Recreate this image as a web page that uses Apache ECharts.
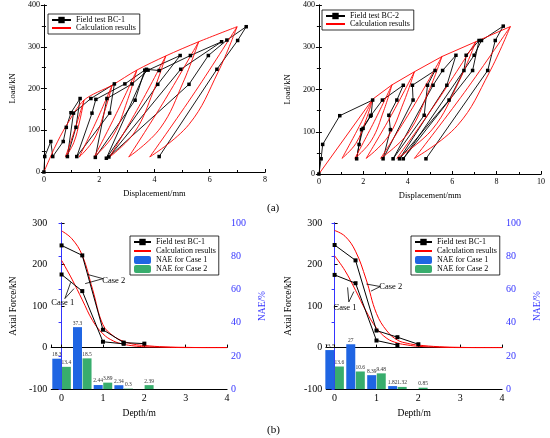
<!DOCTYPE html>
<html>
<head>
<meta charset="utf-8">
<script src="https://cdn.jsdelivr.net/npm/echarts@6/dist/echarts.min.js"></script>
<style>
body { margin: 0; background: #fff; width: 550px; height: 438px; position: relative; overflow: hidden; font-family: "Liberation Serif", serif; }
.c { position: absolute; width: 275px; height: 208px; }
.tag { position: absolute; font-size: 11px; color: #000; }
</style>
</head>
<body>
<div id="a" class="c" style="left:0;top:0"></div>
<div id="b" class="c" style="left:275px;top:0"></div>
<div id="c" class="c" style="left:0;top:215px"></div>
<div id="d" class="c" style="left:275px;top:215px"></div>
<div class="tag" style="left:267px;top:201px">(a)</div>
<div class="tag" style="left:267px;top:423px">(b)</div>
<script>
// ---- (a) load-displacement, BC-1 ----
var bc1Test = [[0,0],[0.03,37],[0.25,73],[0.32,37],
  [0.70,73],[0.81,107],[0.98,142],[1.31,176],[1.16,107],[0.85,37],
  [1.07,141],[1.70,176],[2.55,211],[2.38,141],[1.19,37],
  [1.74,141],[1.88,174],[2.93,211],[3.65,244],[3.30,172],[1.86,35],
  [2.28,176],[3.19,211],[3.77,244],[4.93,279],[4.12,210],[2.26,33],
  [3.71,246],[4.17,243],[5.30,279],[6.43,312],[4.95,246],[2.35,36],
  [5.25,210],[5.95,279],[6.62,316],[7.32,348],[7.01,315],[6.26,246],[4.17,37]];
var bc1Envelope = [[0,0],[0.4,60],[0.8,110],[1.45,172],[2.47,208],[3.36,244],[4.41,278],[5.6,312],[6.99,348]];
var bc1Peaks = [[1.45,172],[2.47,208],[3.36,244],[4.41,278],[5.6,312],[6.99,348]];
var bc1Unload = [[[1.30,124],[1.08,70]], [[2.21,148],[1.82,79]], [[3.02,171],[2.51,88]],
  [[3.96,193],[3.29,96]], [[5.04,215],[4.21,105]], [[6.30,239],[5.25,114]]];
var bc1Resid = [[0.78,36],[1.28,36],[1.82,36],[2.38,36],[3.07,36],[3.83,36]];
var bc1Reload = [[1.13,104],[1.90,122],[2.62,140],[3.44,157],[4.39,174],[5.47,192]];

// ---- (a) load-displacement, BC-2 ----
var bc2Test = [[0,0],[0.1,36],[0.17,70],[0.94,138],[2.42,175],[2.35,139],[1.99,108],[1.81,70],[1.7,36],
  [1.92,105],[2.32,137],[2.86,175],[3.8,210],[3.51,175],[3.15,139],[3.22,105],[2.89,36],
  [4.24,175],[4.21,210],[5.23,245],[4.89,210],[4.74,139],[3.34,36],
  [5.14,210],[5.57,245],[6.17,281],[5.76,210],[3.63,36],
  [5.86,175],[6.53,245],[6.63,281],[7.21,316],[6.92,245],[3.8,36],
  [6.99,281],[7.32,316],[8.3,350],[7.94,316],[7.6,245],[4.82,36]];
var bc2Envelope = [[0,0],[2.42,177],[3.29,211],[4.30,242],[5.54,278],[7.06,313],[8.62,349]];
var bc2Peaks = [[2.42,177],[3.29,211],[4.30,242],[5.54,278],[7.06,313],[8.62,349]];
var bc2Unload = [[[2.12,128],[1.66,72]], [[2.92,150],[2.37,80]], [[3.82,170],[3.11,88]],
  [[4.93,194],[4.02,97]], [[6.28,216],[5.11,106]], [[7.67,240],[6.24,115]]];
var bc2Resid = [[1.04,37],[1.62,37],[2.13,37],[2.78,37],[3.51,37],[4.3,37]];
var bc2Reload = [[1.76,107],[2.49,124],[3.26,139],[4.22,157],[5.36,175],[6.55,193]];

// ---- (b) axial force along depth ----
var testDepth = [0, 0.5, 1, 1.5, 2];
var calcDepth = [0, 0.25, 0.5, 0.75, 1, 1.25, 1.5, 1.75, 2, 2.5, 3, 3.5, 4];
var leftTestUpper = [246, 222, 43, 12, 9.5];
var leftTestLower = [176, 136, 14, 9];
var leftCalcUpper = [281, 262, 222, 140, 55, 28, 15, 8, 5, 1.5, 0.5, 0, 0];
var leftCalcLower = [210, 165, 115, 65, 33, 16, 8, 4, 2, 1, 0, 0, 0];
var leftNae1 = [18.3, 37.3, 2.44, 2.34];
var leftNae2 = [13.4, 18.5, 3.89, 0.3, 2.39];
var rightTestUpper = [247, 210, 41, 25, 8];
var rightTestLower = [175, 155, 17, 6];
var rightCalcUpper = [282, 268, 232, 165, 82, 40, 18, 10, 6, 2, 0.5, 0, 0];
var rightCalcLower = [221, 185, 138, 88, 47, 22, 11, 6, 3, 1, 0, 0, 0];
var rightNae1 = [23.5, 27, 8.39, 1.82];
var rightNae2 = [13.6, 10.6, 9.48, 1.32, 0.85];

// annotation pointers: [apex, end1, end2], label centre
var leftCase2 = [[1.0,166],[0.63,176],[0.57,154]], leftCase2Text = [1.26,162];
var leftCase1 = [[0.08,118],[0.22,157],[0.30,142]], leftCase1Text = [0.03,108];
var rightCase2 = [[1.09,147],[0.76,153],[0.87,136]], rightCase2Text = [1.34,147];
var rightCase1 = [[0.34,110],[0.31,145],[0.46,135]], rightCase1Text = [0.25,96];

var serif = 'Liberation Serif';
var NAN = [NaN, NaN];

function zip(xs, ys) {
  return ys.map(function (y, i) { return [xs[i], y]; });
}

function frameAxes(xmin, xmax, xname, ymin, ymax, yname, minor, fs, nfs, nameGapX, nameGapY) {
  var line = { show: true, lineStyle: { color: '#000', width: 1 } };
  var tick = { show: true, inside: true, length: 3, lineStyle: { color: '#000' } };
  var mtick = { show: minor, splitNumber: 2, length: 2, lineStyle: { color: '#000' } };
  var lab = { color: '#000', fontFamily: serif, fontSize: fs, margin: 4 };
  var nameStyle = { color: '#000', fontFamily: serif, fontSize: nfs };
  return {
    x: [{ type: 'value', min: xmin, max: xmax, name: xname, nameLocation: 'middle', nameGap: nameGapX,
          nameTextStyle: nameStyle, axisLine: line, axisTick: tick, minorTick: mtick, axisLabel: lab,
          splitLine: { show: false } },
        { type: 'value', min: xmin, max: xmax, position: 'top', axisLine: line,
          axisTick: { show: false }, axisLabel: { show: false }, splitLine: { show: false } }],
    y: { type: 'value', min: ymin, max: ymax, interval: 100, name: yname, nameLocation: 'middle',
         nameGap: nameGapY, nameTextStyle: nameStyle, axisLine: line, axisTick: tick, minorTick: mtick,
         axisLabel: lab, splitLine: { show: false } },
    line: line, tick: tick, mtick: mtick
  };
}

// red legend entry: line only, no marker
var calcLegend = { name: 'Calculation results', itemStyle: { opacity: 0 } };

function hysteresis(id, o) {
  var loops = [];
  o.peaks.forEach(function (p, i) {
    var r = o.resid[i];
    loops.push(p, o.unload[i][0], o.unload[i][1], r, NAN, r, o.reload[i], p, NAN);
  });
  var ax = frameAxes(0, o.xmax, 'Displacement/mm', 0, 400, 'Load/kN', true, 8, 8.5, 17, 22);
  ax.x[0].interval = 2;
  var chart = echarts.init(document.getElementById(id));
  chart.setOption({
    animation: false,
    grid: { left: o.left, top: 5, width: 230, height: o.height },
    legend: { data: [o.testName, calcLegend], orient: 'vertical', left: o.legLeft, top: o.legTop,
      borderColor: '#000', borderWidth: 0.8, padding: [2, 4, 2, 3], itemGap: 0, itemWidth: 19, itemHeight: 8,
      textStyle: { fontFamily: serif, fontSize: 8, color: '#000' } },
    xAxis: ax.x,
    yAxis: [ax.y, { type: 'value', min: 0, max: 400, interval: 100, position: 'right', axisLine: ax.line,
      axisTick: ax.tick, minorTick: ax.mtick, axisLabel: { show: false }, splitLine: { show: false } }],
    series: [
      { name: o.testName, type: 'line', data: o.test, symbol: 'rect', symbolSize: 3.5,
        lineStyle: { color: '#000', width: 0.9 }, itemStyle: { color: '#000' } },
      { name: 'Calculation results', type: 'line', data: o.envelope, symbol: 'none', smooth: o.envSmooth,
        lineStyle: { color: '#ff0000', width: 0.9 }, itemStyle: { color: '#ff0000' } },
      { name: 'Calculation results', type: 'line', data: loops, symbol: 'none', smooth: 0.4, connectNulls: false,
        lineStyle: { color: '#ff0000', width: 0.9 }, itemStyle: { color: '#ff0000' } }
    ]
  });
}

function caseNote(pts, textAt, text) {
  return {
    line: [[{ coord: pts[0] }, { coord: pts[1] }], [{ coord: pts[0] }, { coord: pts[2] }]],
    point: { coord: textAt, symbolSize: 0, label: { show: true, formatter: text, position: 'inside',
      color: '#000', fontFamily: serif, fontSize: 8.5 } }
  };
}

function profile(id, o) {
  var ax = frameAxes(o.xmin, 4, 'Depth/m', -100, 300, 'Axial Force/kN', false, 10, 9.5, 18, 26);
  ax.x[0].axisLabel.formatter = function (v) { return Math.abs(v - Math.round(v)) < 1e-6 ? String(Math.round(v)) : ''; };
  var n1 = caseNote(o.case1, o.case1Text, 'Case 1');
  var n2 = caseNote(o.case2, o.case2Text, 'Case 2');
  var blue = '#3434ff';
  var barLabel = { show: true, position: 'top', distance: 1, fontSize: 5.5, fontFamily: serif, color: '#333' };
  var lineBlack = { color: '#000', width: 1 };
  var lineRed = { color: '#ff0000', width: 1 };
  var chart = echarts.init(document.getElementById(id));
  chart.setOption({
    animation: false,
    grid: { left: o.left, top: 8, width: o.width, height: 169 },
    legend: { data: [o.testName, calcLegend, 'NAE for Case 1', 'NAE for Case 2'], orient: 'vertical',
      left: o.legLeft, top: 21, borderColor: '#000', borderWidth: 0.8, padding: [2, 3, 2, 3], itemGap: 1,
      itemWidth: 17, itemHeight: 8, textStyle: { fontFamily: serif, fontSize: 8, color: '#000' } },
    xAxis: ax.x,
    yAxis: [ax.y, { type: 'value', min: 0, max: 100, interval: 20, position: 'right', name: 'NAE/%',
      nameLocation: 'middle', nameGap: 23, nameTextStyle: { color: blue, fontFamily: serif, fontSize: 9.5 },
      axisLine: { show: true, lineStyle: { color: blue, width: 1 } },
      axisTick: { show: true, inside: true, length: 3, lineStyle: { color: blue } },
      axisLabel: { color: blue, fontFamily: serif, fontSize: 10, margin: 4 }, splitLine: { show: false } }],
    series: [
      { name: 'NAE for Case 1', type: 'bar', yAxisIndex: 1, data: zip(testDepth, o.nae1), barWidth: 9, barGap: '6%',
        itemStyle: { color: '#1f65e3' }, label: barLabel },
      { name: 'NAE for Case 2', type: 'bar', yAxisIndex: 1, data: zip(testDepth, o.nae2), barWidth: 9, barGap: '6%',
        itemStyle: { color: '#38ad6d' }, label: barLabel },
      { name: 'Calculation results', type: 'line', data: zip(calcDepth, o.calcUpper), symbol: 'none', smooth: 0.4,
        lineStyle: lineRed, itemStyle: { color: '#ff0000' } },
      { name: 'Calculation results', type: 'line', data: zip(calcDepth, o.calcLower), symbol: 'none', smooth: 0.4,
        lineStyle: lineRed, itemStyle: { color: '#ff0000' } },
      { name: o.testName, type: 'line', data: zip(testDepth, o.testUpper), symbol: 'rect', symbolSize: 4,
        lineStyle: lineBlack, itemStyle: { color: '#000' },
        markLine: { silent: true, symbol: ['none', 'none'], label: { show: false },
          lineStyle: { color: '#000', width: 0.8, type: 'solid' }, data: n1.line.concat(n2.line) },
        markPoint: { silent: true, data: [n1.point, n2.point] } },
      { name: o.testName, type: 'line', data: zip(testDepth, o.testLower), symbol: 'rect', symbolSize: 4,
        lineStyle: lineBlack, itemStyle: { color: '#000' } }
    ]
  });
}

hysteresis('a', { xmax: 8, left: 35, height: 167, testName: 'Field test BC-1', test: bc1Test,
  envelope: bc1Envelope, envSmooth: 0.3, peaks: bc1Peaks, unload: bc1Unload, resid: bc1Resid,
  reload: bc1Reload, legLeft: 48, legTop: 14 });
hysteresis('b', { xmax: 10, left: 36, height: 169, testName: 'Field test BC-2', test: bc2Test,
  envelope: bc2Envelope, envSmooth: false, peaks: bc2Peaks, unload: bc2Unload, resid: bc2Resid,
  reload: bc2Reload, legLeft: 47, legTop: 10 });
profile('c', { xmin: -0.25, left: 37, width: 201, testName: 'Field test BC-1',
  testUpper: leftTestUpper, testLower: leftTestLower, calcUpper: leftCalcUpper, calcLower: leftCalcLower,
  nae1: leftNae1, nae2: leftNae2, case1: leftCase1, case1Text: leftCase1Text,
  case2: leftCase2, case2Text: leftCase2Text, legLeft: 130 });
profile('d', { xmin: -0.2, left: 43, width: 198, testName: 'Field test BC-1',
  testUpper: rightTestUpper, testLower: rightTestLower, calcUpper: rightCalcUpper, calcLower: rightCalcLower,
  nae1: rightNae1, nae2: rightNae2, case1: rightCase1, case1Text: rightCase1Text,
  case2: rightCase2, case2Text: rightCase2Text, legLeft: 136 });
</script>
</body>
</html>
